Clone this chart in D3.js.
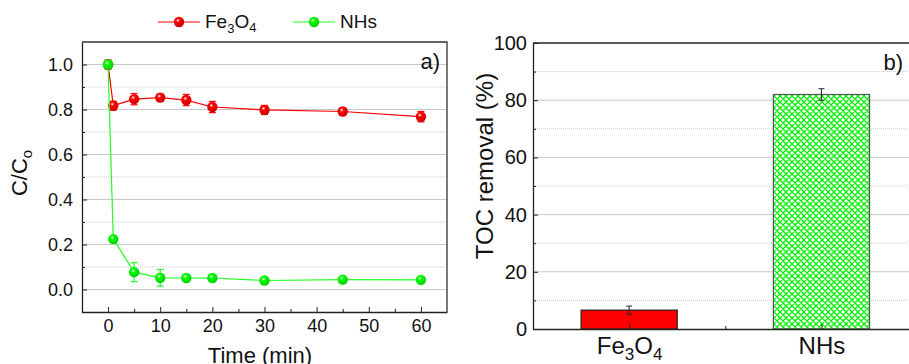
<!DOCTYPE html>
<html>
<head>
<meta charset="utf-8">
<script src="https://cdn.jsdelivr.net/npm/d3@7"></script>
<style>
  body { margin: 0; background: #fff; }
  svg { display: block; font-family: "Liberation Sans", Arial, sans-serif; }
  .grid-major line { stroke: #c8c8c8; stroke-width: 1; }
  .grid-minor line { stroke: #c8c8c8; stroke-width: 1; stroke-dasharray: 1,1; }
  .axis path, .axis line { stroke: #222; }
</style>
</head>
<body>
<svg id="chart" width="909" height="364"></svg>
<script>
// panel a) kinetics
const times = [0, 1, 5, 10, 15, 20, 30, 45, 60];
const feValues = [1.0, 0.817, 0.846, 0.853, 0.842, 0.811, 0.798, 0.791, 0.768];
const feErrors = [0.02, 0.02, 0.025, 0.016, 0.025, 0.025, 0.02, 0.015, 0.023];
const nhsValues = [1.0, 0.224, 0.077, 0.052, 0.051, 0.051, 0.04, 0.044, 0.043];
const nhsErrors = [0.015, 0.01, 0.042, 0.037, 0.008, 0.007, 0.006, 0.006, 0.006];
const xTicksA = [0, 10, 20, 30, 40, 50, 60];
const yTicksA = [0.0, 0.2, 0.4, 0.6, 0.8, 1.0];

// panel b) TOC removal
const materials = ['Fe3O4', 'NHs'];
const tocValues = [6.6, 82];
const tocErrors = [1.4, 2.0];
const yTicksB = [0, 20, 40, 60, 80, 100];

const svg = d3.select('#chart');
const defs = svg.append('defs');

function ballGradient(id, color) {
  const g = defs.append('radialGradient').attr('id', id)
    .attr('cx', '40%').attr('cy', '35%').attr('r', '65%');
  g.append('stop').attr('offset', '0%').attr('stop-color', '#fff');
  g.append('stop').attr('offset', '30%').attr('stop-color', color);
  g.append('stop').attr('offset', '100%').attr('stop-color', d3.color(color).darker(0.6));
}
ballGradient('ballRed', '#ff0000');
ballGradient('ballGreen', '#00ff00');

const hatch = defs.append('pattern').attr('id', 'hatch')
  .attr('patternUnits', 'userSpaceOnUse').attr('width', 6).attr('height', 6);
hatch.append('rect').attr('width', 6).attr('height', 6).attr('fill', '#fff');
hatch.append('path').attr('d', 'M0,0L6,6M6,0L0,6M-1,5L1,7M5,-1L7,1M-1,1L1,-1M5,7L7,5')
  .attr('stroke', '#00f000').attr('stroke-width', 1.3);

// subscript helper: "Fe3O4" -> Fe<sub>3</sub>O<sub>4</sub>
function writeFormula(text, str, subSize) {
  text.text(null);
  let shifted = false;
  str.split(/(\d)/).filter(s => s).forEach(part => {
    const span = text.append('tspan').text(part);
    if (/\d/.test(part)) {
      span.attr('font-size', subSize).attr('dy', '0.35em');
      shifted = true;
    } else if (shifted) {
      span.attr('dy', '-0.25em');
      shifted = false;
    }
  });
}

// ---------- panel a ----------
const xA = d3.scaleLinear().domain([-5, 65]).range([82, 447]);
const yA = d3.scaleLinear().domain([-0.1, 1.1]).range([312, 42]);

const gA = svg.append('g');

gA.append('g').attr('class', 'grid-minor')
  .selectAll('line').data(d3.range(0.1, 1.0, 0.2)).join('line')
  .attr('x1', xA(-5)).attr('x2', xA(65))
  .attr('y1', d => yA(d)).attr('y2', d => yA(d));
gA.append('g').attr('class', 'grid-major')
  .selectAll('line').data(yTicksA).join('line')
  .attr('x1', xA(-5)).attr('x2', xA(65))
  .attr('y1', d => yA(d)).attr('y2', d => yA(d));

// minor ticks
gA.append('g').attr('class', 'axis')
  .attr('transform', 'translate(0,312)')
  .call(d3.axisBottom(xA).tickValues(d3.range(5, 60, 10)).tickSize(-3).tickFormat(''))
  .select('.domain').remove();
gA.append('g').attr('class', 'axis')
  .attr('transform', 'translate(82,0)')
  .call(d3.axisLeft(yA).tickValues(d3.range(-0.1, 1.05, 0.2)).tickSize(-3).tickFormat(''))
  .select('.domain').remove();

const xAxisA = gA.append('g').attr('class', 'axis')
  .attr('transform', 'translate(0,312)')
  .call(d3.axisBottom(xA).tickValues(xTicksA).tickSize(-5).tickPadding(7).tickSizeOuter(0));
const yAxisA = gA.append('g').attr('class', 'axis')
  .attr('transform', 'translate(82,0)')
  .call(d3.axisLeft(yA).tickValues(yTicksA).tickSize(-5).tickPadding(9).tickSizeOuter(0)
    .tickFormat(d3.format('.1f')));
[xAxisA, yAxisA].forEach(a => a.selectAll('text')
  .attr('font-size', 18).attr('fill', '#111').attr('font-family', '"Liberation Sans", Arial'));
xAxisA.select('.domain').attr('stroke-width', 1.3);
yAxisA.select('.domain').attr('stroke-width', 1.3);

// frame top/right
gA.append('path')
  .attr('d', `M${xA(-5)},${yA(1.1)}H${xA(65)}V${yA(-0.1)}`)
  .attr('fill', 'none').attr('stroke', '#333').attr('stroke-width', 1.3);

const series = [
  {name: 'Fe3O4', values: feValues, errors: feErrors, color: '#ff0000', ball: 'ballRed'},
  {name: 'NHs', values: nhsValues, errors: nhsErrors, color: '#22ff22', ball: 'ballGreen'}
];

const line = d3.line().x(d => xA(d.t)).y(d => yA(d.v));

series.forEach(s => {
  const pts = times.map((t, i) => ({t, v: s.values[i], e: s.errors[i]}));
  const g = gA.append('g');
  g.append('path').datum(pts).attr('d', line)
    .attr('fill', 'none').attr('stroke', s.color).attr('stroke-width', 1.2);
  const eb = g.selectAll('.err').data(pts).join('g').attr('class', 'err')
    .attr('stroke', s.color).attr('stroke-width', 1.2);
  eb.append('line')
    .attr('x1', d => xA(d.t)).attr('x2', d => xA(d.t))
    .attr('y1', d => yA(d.v - d.e)).attr('y2', d => yA(d.v + d.e));
  eb.append('line')
    .attr('x1', d => xA(d.t) - 3.5).attr('x2', d => xA(d.t) + 3.5)
    .attr('y1', d => yA(d.v - d.e)).attr('y2', d => yA(d.v - d.e));
  eb.append('line')
    .attr('x1', d => xA(d.t) - 3.5).attr('x2', d => xA(d.t) + 3.5)
    .attr('y1', d => yA(d.v + d.e)).attr('y2', d => yA(d.v + d.e));
  g.selectAll('circle').data(pts).join('circle')
    .attr('cx', d => xA(d.t)).attr('cy', d => yA(d.v)).attr('r', 5.2)
    .attr('fill', `url(#${s.ball})`);
});

// legend
const legend = svg.append('g');
const legendX = [158, 293];
series.forEach((s, i) => {
  const lg = legend.append('g').attr('transform', `translate(${legendX[i]},22)`);
  lg.append('line').attr('x1', 0).attr('x2', 42).attr('stroke', s.color).attr('stroke-width', 1.2);
  lg.append('circle').attr('cx', 21).attr('r', 5.2).attr('fill', `url(#${s.ball})`);
  const t = lg.append('text').attr('x', 47).attr('y', 6).attr('font-size', 19).attr('fill', '#111');
  writeFormula(t, s.name, 13);
});

gA.append('text').attr('x', 440).attr('y', 69).attr('text-anchor', 'end')
  .attr('font-size', 22).attr('fill', '#111').text('a)');

gA.append('text').attr('x', 260).attr('y', 363).attr('text-anchor', 'middle')
  .attr('font-size', 22).attr('fill', '#111').text('Time (min)');

const yTitleA = gA.append('text')
  .attr('transform', 'translate(27,173) rotate(-90)')
  .attr('text-anchor', 'middle').attr('font-size', 22).attr('fill', '#111');
yTitleA.append('tspan').text('C/C');
yTitleA.append('tspan').attr('font-size', 15).attr('dy', '0.35em').text('o');

// ---------- panel b ----------
const xB = d3.scaleLinear().domain([0.5, 2.5]).range([533, 917.6]);
const yB = d3.scaleLinear().domain([0, 100]).range([329, 43]);
const gB = svg.append('g');

gB.append('g').attr('class', 'grid-minor')
  .selectAll('line').data(d3.range(10, 100, 20)).join('line')
  .attr('x1', xB(0.5)).attr('x2', xB(2.5))
  .attr('y1', d => yB(d)).attr('y2', d => yB(d));
gB.append('g').attr('class', 'grid-major')
  .selectAll('line').data(yTicksB.slice(1, -1)).join('line')
  .attr('x1', xB(0.5)).attr('x2', xB(2.5))
  .attr('y1', d => yB(d)).attr('y2', d => yB(d));

const barW = xB(1.5) - xB(1);
gB.selectAll('.bar').data(materials).join('rect').attr('class', 'bar')
  .attr('x', (d, i) => xB(i + 1) - barW / 2)
  .attr('width', barW)
  .attr('y', (d, i) => yB(tocValues[i]))
  .attr('height', (d, i) => yB(0) - yB(tocValues[i]))
  .attr('fill', (d, i) => i === 0 ? '#ff0000' : 'url(#hatch)')
  .attr('stroke', (d, i) => i === 0 ? '#222' : '#555')
  .attr('stroke-width', 1.2);

const ebB = gB.selectAll('.errB').data(materials).join('g').attr('class', 'errB')
  .attr('stroke', '#222').attr('stroke-width', 1);
ebB.append('line')
  .attr('x1', (d, i) => xB(i + 1)).attr('x2', (d, i) => xB(i + 1))
  .attr('y1', (d, i) => yB(tocValues[i] - tocErrors[i])).attr('y2', (d, i) => yB(tocValues[i] + tocErrors[i]));
[-1, 1].forEach(sgn => {
  ebB.append('line')
    .attr('x1', (d, i) => xB(i + 1) - 3).attr('x2', (d, i) => xB(i + 1) + 3)
    .attr('y1', (d, i) => yB(tocValues[i] + sgn * tocErrors[i]))
    .attr('y2', (d, i) => yB(tocValues[i] + sgn * tocErrors[i]));
});

gB.append('g').attr('class', 'axis')
  .attr('transform', 'translate(533,0)')
  .call(d3.axisLeft(yB).tickValues(d3.range(10, 100, 20)).tickSize(-3).tickFormat(''))
  .select('.domain').remove();
gB.append('g').attr('class', 'axis')
  .attr('transform', 'translate(0,329)')
  .call(d3.axisBottom(xB).tickValues([1.5]).tickSize(-3).tickFormat(''))
  .select('.domain').remove();

const yAxisB = gB.append('g').attr('class', 'axis')
  .attr('transform', 'translate(533,0)')
  .call(d3.axisLeft(yB).tickValues(yTicksB).tickSize(-5).tickPadding(6).tickSizeOuter(0));
yAxisB.selectAll('text').attr('font-size', 20).attr('fill', '#111');
yAxisB.select('.domain').attr('stroke-width', 1.3);

const xAxisB = gB.append('g').attr('class', 'axis')
  .attr('transform', 'translate(0,329)')
  .call(d3.axisBottom(xB).tickValues([1, 2]).tickSize(-5).tickPadding(8).tickSizeOuter(0)
    .tickFormat((d, i) => materials[i]));
xAxisB.selectAll('text').attr('font-size', 24).attr('fill', '#111')
  .each(function(d, i) { writeFormula(d3.select(this), materials[i], 17); });
xAxisB.select('.domain').attr('stroke-width', 1.6);

gB.append('path')
  .attr('d', `M${xB(0.5)},${yB(100)}H${xB(2.5)}`)
  .attr('stroke', '#222').attr('stroke-width', 1.3);

gB.append('text').attr('x', 903).attr('y', 70).attr('text-anchor', 'end')
  .attr('font-size', 22).attr('fill', '#111').text('b)');

gB.append('text')
  .attr('transform', 'translate(493,166) rotate(-90)')
  .attr('text-anchor', 'middle').attr('font-size', 24).attr('fill', '#111')
  .text('TOC removal (%)');
</script>
</body>
</html>
